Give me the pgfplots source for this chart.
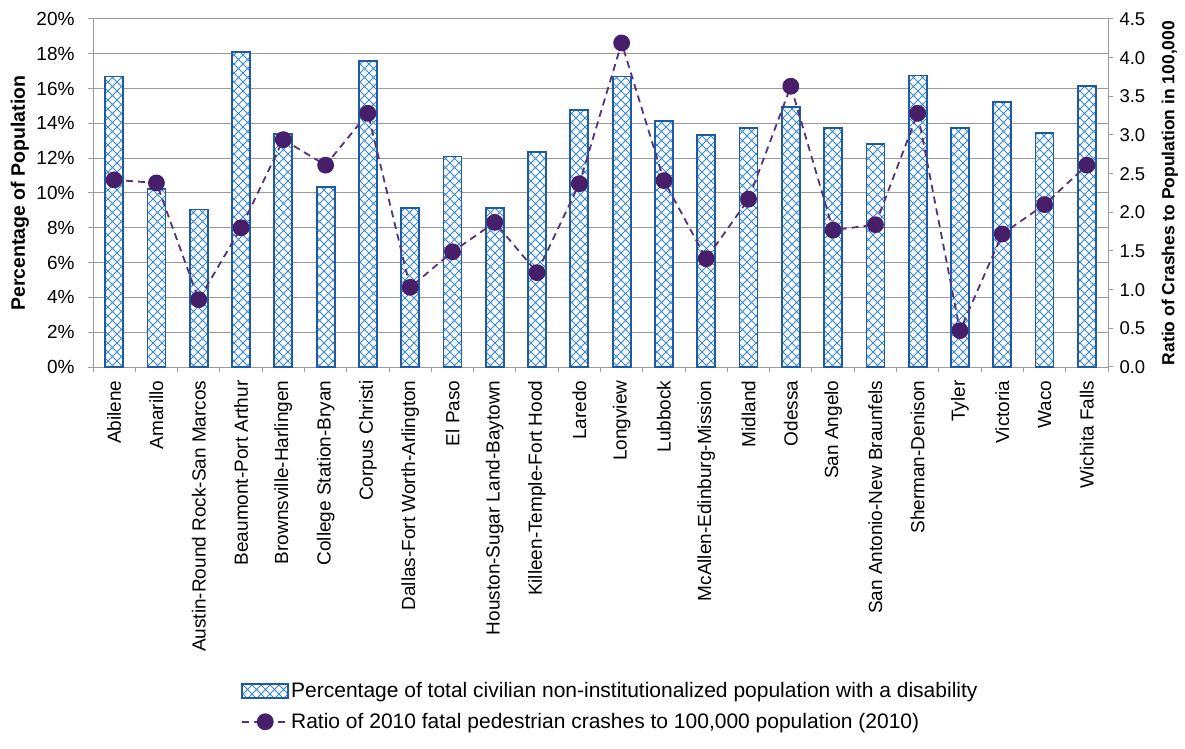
\documentclass[border=0pt]{standalone}
\usepackage{pgfplots}
\pgfplotsset{compat=1.18}
\usepackage{pgfplotstable}
\usepackage{fontspec}
\setmainfont{Liberation Sans}
\usetikzlibrary{patterns}
\definecolor{barline}{RGB}{31,90,165}
\definecolor{hatchc}{RGB}{55,135,210}
\definecolor{lineclr}{RGB}{85,50,125}
\definecolor{dotclr}{RGB}{70,30,105}
\definecolor{gridc}{RGB}{155,155,155}

\pgfdeclarepatternformonly{xhatch}{\pgfqpoint{-1pt}{-1pt}}{\pgfqpoint{10pt}{10pt}}{\pgfqpoint{9pt}{9pt}}{%
  \pgfsetlinewidth{0.8pt}%
  \pgfpathmoveto{\pgfqpoint{0pt}{0pt}}\pgfpathlineto{\pgfqpoint{9pt}{9pt}}%
  \pgfpathmoveto{\pgfqpoint{0pt}{9pt}}\pgfpathlineto{\pgfqpoint{9pt}{0pt}}%
  \pgfusepath{stroke}}

\pgfplotstableread{
x bar ratio
0 16.69 2.42
1 10.24 2.38
2 9.05 0.87
3 18.09 1.80
4 13.40 2.94
5 10.33 2.61
6 17.60 3.28
7 9.15 1.03
8 12.10 1.49
9 9.15 1.87
10 12.34 1.22
11 14.78 2.37
12 16.69 4.19
13 14.16 2.41
14 13.34 1.40
15 13.74 2.17
16 14.93 3.63
17 13.74 1.77
18 12.82 1.84
19 16.75 3.28
20 13.72 0.47
21 15.25 1.72
22 13.44 2.10
23 16.13 2.61
}\data

\pgfplotsset{
  mybar/.style={draw=barline, line width=1.8pt, pattern=xhatch, pattern color=hatchc},
  myline/.style={lineclr, line width=1.8pt, dash pattern=on 7pt off 5pt,
    mark=*, mark size=7.5pt, mark options={solid, fill=dotclr, draw=dotclr}},
  barlegend/.style={legend image code/.code={\draw[##1] (0pt,-7pt) rectangle (46pt,7pt);}},
  linelegend/.style={legend image code/.code={\draw[mark repeat=2, mark phase=2, ##1] plot coordinates {(0pt,0pt) (23pt,0pt) (46pt,0pt)};}},
}

\begin{document}
\begin{tikzpicture}
\begin{axis}[
  name=ax,
  scale only axis, width=1015pt, height=348pt,
  xmin=-0.5, xmax=23.5, ymin=0, ymax=20,
  axis y line*=left, axis x line*=bottom,
  axis line style={draw=gridc, line width=1pt, -},
  ytick={0,2,...,20},
  yticklabel={\pgfmathprintnumber{\tick}\%},
  /pgf/number format/assume math mode=true,
  yticklabel style={font=\fontsize{19}{21}\selectfont},
  yticklabel shift=10pt,
  ymajorgrids, grid style={gridc, line width=1pt},
  xtick={0,...,23},
  xticklabels={Abilene, Amarillo, Austin-Round Rock-San Marcos, Beaumont-Port Arthur, Brownsville-Harlingen, College Station-Bryan, Corpus Christi, Dallas-Fort Worth-Arlington, El Paso, Houston-Sugar Land-Baytown, Killeen-Temple-Fort Hood, Laredo, Longview, Lubbock, McAllen-Edinburg-Mission, Midland, Odessa, San Angelo, San Antonio-New Braunfels, Sherman-Denison, Tyler, Victoria, Waco, Wichita Falls},
  x tick label style={rotate=90, anchor=east, font=\fontsize{19}{21}\selectfont},
  xticklabel shift=5pt,
  major x tick style={draw=none},
  minor xtick={-0.5,0.5,...,23.5},
  minor x tick style={draw=gridc, line width=1pt},
  y tick style={draw=gridc, line width=1pt},
  tick align=outside, major tick length=5pt, minor tick length=5pt,
  ylabel={Percentage of Population},
  ylabel style={at={(axis description cs:-0.072,0.5)}, anchor=center, font=\bfseries\fontsize{19.5}{22}\selectfont},
  legend style={at={(axis description cs:0.143,-0.895)}, anchor=north west, draw=none, fill=none,
    font=\fontsize{21}{25}\selectfont, row sep=10pt, cells={anchor=west}},
  legend cell align=left,
]
\addplot[ybar, bar width=18pt, bar shift=0pt, fill=white, draw=none, forget plot]
  table[x=x, y=bar]{\data};
\addplot[ybar, bar width=18pt, bar shift=0pt, mybar, barlegend]
  table[x=x, y=bar]{\data};
\addlegendentry{Percentage of total civilian non-institutionalized population with a disability}
\addlegendimage{myline, linelegend}
\addlegendentry{Ratio of 2010 fatal pedestrian crashes to 100,000 population (2010)}
\end{axis}
\begin{axis}[
  scale only axis, width=1015pt, height=348pt,
  xmin=-0.5, xmax=23.5, ymin=0, ymax=4.5,
  axis x line=none, axis y line*=right,
  axis line style={draw=gridc, line width=1pt, -},
  ytick={0,0.5,1,1.5,2,2.5,3,3.5,4,4.5},
  /pgf/number format/assume math mode=true,
  yticklabel style={font=\fontsize{18.5}{21}\selectfont, /pgf/number format/.cd, fixed, fixed zerofill, precision=1},
  yticklabel shift=3pt,
  y tick style={draw=gridc, line width=1pt},
  tick align=outside, major tick length=5pt,
  ylabel={Ratio of Crashes to Population in 100,000},
  ylabel style={at={(axis description cs:1.061,0.5)}, anchor=center, font=\bfseries\fontsize{17.5}{21}\selectfont},
]
\addplot[myline] table[x=x, y=ratio]{\data};
\end{axis}
\path ([xshift=-93pt,yshift=-381pt]ax.south west) rectangle ([xshift=77pt,yshift=19pt]ax.north east);
\end{tikzpicture}
\end{document}
